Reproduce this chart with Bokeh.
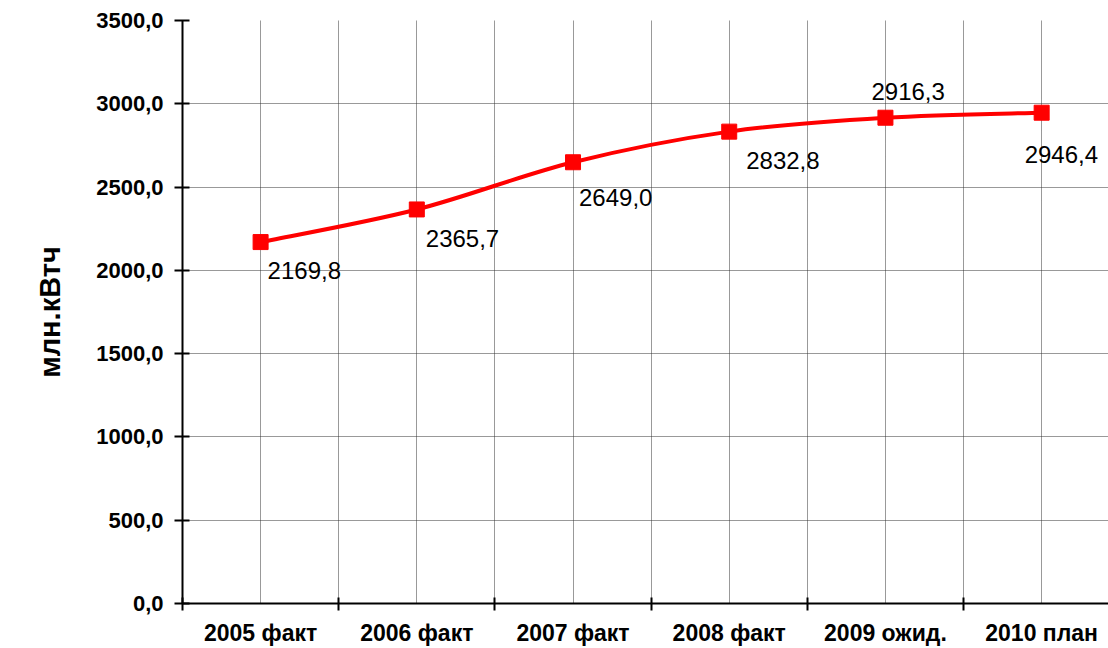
from bokeh.plotting import figure
from bokeh.models import Range1d, FixedTicker, ColumnDataSource
from bokeh.core.properties import value
from bokeh.embed import file_html
from bokeh.resources import INLINE

categories = ["2005 факт", "2006 факт", "2007 факт", "2008 факт", "2009 ожид.", "2010 план"]
values = [2169.8, 2365.7, 2649.0, 2832.8, 2916.3, 2946.4]
y_ticks = [0, 500, 1000, 1500, 2000, 2500, 3000, 3500]
y_title = "млн.кВтч"

# label placement (style, screen pixels)
lab_dx = [7, 9, 6, 17, -14, -17]
lab_dy = [28, 29, 35, 29, -26, 42]

n = len(categories)
xs = [i + 0.5 for i in range(n)]

p = figure(frame_width=926, frame_height=583, output_backend="svg", toolbar_location=None,
           x_range=Range1d(0, 5.928), y_range=Range1d(0, 3500),
           min_border_left=182, min_border_top=20, min_border_right=0, min_border_bottom=45)
p.outline_line_color = None
p.background_fill_color = "white"
p.border_fill_color = "white"

# grids
p.xgrid.ticker = FixedTicker(ticks=[i * 0.5 for i in range(1, 2 * n)])
p.ygrid.ticker = FixedTicker(ticks=y_ticks[1:])
for g in (p.xgrid, p.ygrid):
    g.grid_line_color = "#333333"
    g.grid_line_dash = "1 1"
    g.grid_line_width = 1

# x axis
xa = p.xaxis[0]
xa.ticker = FixedTicker(ticks=xs, minor_ticks=list(range(n)))
xa.major_label_overrides = {x: c for x, c in zip(xs, categories)}
xa.major_tick_in = 0
xa.major_tick_out = 0
xa.minor_tick_in = 6
xa.minor_tick_out = 7
xa.minor_tick_line_color = "black"
xa.minor_tick_line_width = 2
xa.axis_line_color = "black"
xa.axis_line_width = 2
xa.major_label_text_font = "Liberation Sans"
xa.major_label_text_font_style = "bold"
xa.major_label_text_font_size = "23px"
xa.major_label_text_color = "black"
xa.major_label_standoff = 9

# y axis
ya = p.yaxis[0]
ya.ticker = FixedTicker(ticks=y_ticks)
ya.major_label_overrides = {t: f"{t:.1f}".replace(".", ",") for t in y_ticks}
ya.major_tick_in = 7
ya.major_tick_out = 8
ya.major_tick_line_width = 2
ya.major_tick_line_color = "black"
ya.minor_tick_line_color = None
ya.axis_line_color = "black"
ya.axis_line_width = 2
ya.major_label_text_font = "Liberation Sans"
ya.major_label_text_font_style = "bold"
ya.major_label_text_font_size = "22px"
ya.major_label_text_color = "black"
ya.major_label_standoff = 11
ya.axis_label = y_title
ya.axis_label_text_font = "Liberation Sans"
ya.axis_label_text_font_style = "bold"
ya.axis_label_text_font_size = "29px"
ya.axis_label_text_color = "black"
ya.axis_label_standoff = 27

# smoothed line (Catmull-Rom style bezier through data points)
x0, y0, x1, y1, cx0, cy0, cx1, cy1 = [], [], [], [], [], [], [], []
for i in range(n - 1):
    pm = i - 1 if i > 0 else i
    pp = i + 2 if i + 2 < n else i + 1
    x0.append(xs[i]); y0.append(values[i])
    x1.append(xs[i + 1]); y1.append(values[i + 1])
    cx0.append(xs[i] + (xs[i + 1] - xs[pm]) / 6)
    cy0.append(values[i] + (values[i + 1] - values[pm]) / 6)
    cx1.append(xs[i + 1] - (xs[pp] - xs[i]) / 6)
    cy1.append(values[i + 1] - (values[pp] - values[i]) / 6)
p.bezier(x0=x0, y0=y0, x1=x1, y1=y1, cx0=cx0, cy0=cy0, cx1=cx1, cy1=cy1,
         line_color="#FF0000", line_width=4)

p.scatter(xs, values, marker="square", size=15, fill_color="#FF0000", line_color="#FF0000")

src = ColumnDataSource(dict(x=xs, y=values,
                            t=[f"{v:.1f}".replace(".", ",") for v in values],
                            dx=lab_dx, dy=lab_dy))
p.text(x="x", y="y", text="t", x_offset="dx", y_offset="dy", source=src,
       text_font=value("Liberation Sans"), text_font_size="24px", text_color="black",
       text_align="left", text_baseline="middle")

open("out.html", "w").write(file_html(p, INLINE))
